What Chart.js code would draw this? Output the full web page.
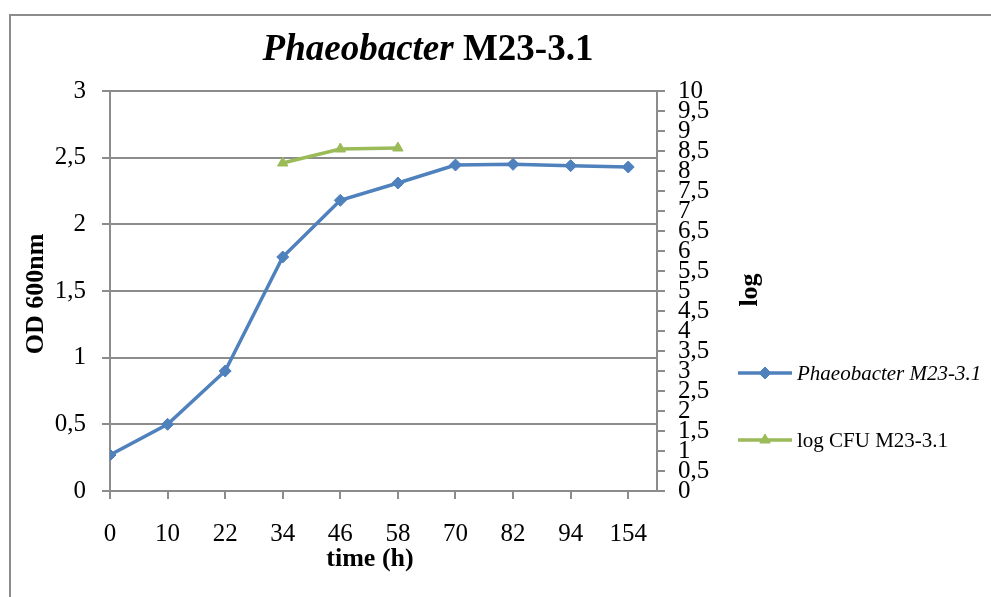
<!DOCTYPE html>
<html>
<head>
<meta charset="utf-8">
<script src="https://cdn.jsdelivr.net/npm/chart.js@4.4.1/dist/chart.umd.min.js"></script>
<style>
  html, body { margin: 0; padding: 0; background: #fff; }
  #wrap { position: relative; width: 991px; height: 597px; }
</style>
</head>
<body>
<div id="wrap"><canvas id="c" width="991" height="597"></canvas></div>
<script>
// ---- data ----
const timeLabels = ['0', '10', '22', '34', '46', '58', '70', '82', '94', '154'];
const odValues = [0.27, 0.50, 0.90, 1.755, 2.18, 2.31, 2.445, 2.45, 2.44, 2.43];
const logCfuValues = [null, null, null, 8.2, 8.55, 8.575, null, null, null, null];
const seriesNames = ['Phaeobacter M23-3.1', 'log CFU M23-3.1'];
const titleItalicPart = 'Phaeobacter';
const titleBoldPart = ' M23-3.1';
const xTitle = 'time (h)';
const yTitle = 'OD 600nm';
const y1Title = 'log';

const SERIF = "'Liberation Serif', 'Times New Roman', serif";
const AXIS_GREY = '#8c8c8c';
const BLUE = '#4f81bd';
const GREEN = '#9bbb59';

const toPoints = (arr) => arr.map((v, i) => ({ x: i, y: v })).filter(p => p.y !== null);
const commaFmt = (v) => String(Math.round(v * 10) / 10).replace('.', ',');

const decorPlugin = {
  id: 'decor',
  beforeDraw(chart) {
    const ctx = chart.ctx;
    ctx.save();
    ctx.fillStyle = '#fff';
    ctx.fillRect(0, 0, chart.width, chart.height);
    ctx.strokeStyle = AXIS_GREY;
    ctx.lineWidth = 2;
    ctx.strokeRect(10, 15, chart.width + 20, chart.height + 20);
    ctx.restore();
  },
  afterDraw(chart) {
    const ctx = chart.ctx;
    ctx.save();
    ctx.fillStyle = '#000';
    // Title (mixed italic / bold)
    const fItal = "italic bold 37px " + SERIF;
    const fBold = "bold 37px " + SERIF;
    ctx.font = fItal; const w1 = ctx.measureText(titleItalicPart).width;
    ctx.font = fBold; const w2 = ctx.measureText(titleBoldPart).width;
    const tx = 428 - (w1 + w2) / 2;
    ctx.textBaseline = 'alphabetic';
    ctx.textAlign = 'left';
    ctx.font = fItal; ctx.fillText(titleItalicPart, tx, 60);
    ctx.font = fBold; ctx.fillText(titleBoldPart, tx + w1, 60);

    // Axis titles
    ctx.font = "bold 26px " + SERIF;
    ctx.textAlign = 'center';
    ctx.textBaseline = 'middle';
    ctx.fillText(xTitle, 370, 559);
    ctx.save();
    ctx.translate(36, 294);
    ctx.rotate(-Math.PI / 2);
    ctx.fillText(yTitle, 0, 0);
    ctx.restore();
    ctx.save();
    ctx.translate(750, 290);
    ctx.rotate(-Math.PI / 2);
    ctx.fillText(y1Title, 0, 0);
    ctx.restore();

    // Legend
    const legendY = [373, 440];
    chart.data.datasets.forEach((ds, i) => {
      const y = legendY[i];
      ctx.strokeStyle = ds.borderColor;
      ctx.lineWidth = ds.borderWidth;
      ctx.lineCap = 'butt';
      ctx.beginPath();
      ctx.moveTo(738, y);
      ctx.lineTo(792, y);
      ctx.stroke();
      ctx.fillStyle = ds.borderColor;
      ctx.strokeStyle = ds.borderColor;
      ctx.lineWidth = 1;
      Chart.helpers.drawPoint(ctx, {
        pointStyle: ds.pointStyle,
        radius: ds.pointRadius,
        rotation: 0,
        borderWidth: 1
      }, 765, y);
      ctx.fillStyle = '#000';
      ctx.font = (i === 0 ? 'italic ' : '') + '21px ' + SERIF;
      ctx.textAlign = 'left';
      ctx.textBaseline = 'middle';
      ctx.fillText(ds.label, 797, y + 1);
    });
    ctx.restore();
  }
};

new Chart(document.getElementById('c'), {
  type: 'line',
  data: {
    datasets: [
      {
        label: seriesNames[0],
        data: toPoints(odValues),
        yAxisID: 'y',
        borderColor: BLUE,
        backgroundColor: BLUE,
        borderWidth: 3.5,
        pointStyle: 'rectRot',
        pointRadius: 6,
        pointBorderWidth: 1,
        pointBorderColor: BLUE,
        pointBackgroundColor: BLUE,
        tension: 0
      },
      {
        label: seriesNames[1],
        data: toPoints(logCfuValues),
        yAxisID: 'y1',
        borderColor: GREEN,
        backgroundColor: GREEN,
        borderWidth: 3.5,
        pointStyle: 'triangle',
        pointRadius: 6,
        pointBorderWidth: 1,
        pointBorderColor: GREEN,
        pointBackgroundColor: GREEN,
        tension: 0
      }
    ]
  },
  options: {
    responsive: false,
    animation: false,
    devicePixelRatio: 1,
    layout: { padding: { top: 91, right: 224, bottom: 0, left: 0 } },
    plugins: {
      legend: { display: false },
      title: { display: false },
      tooltip: { enabled: false }
    },
    scales: {
      x: {
        type: 'linear',
        min: 0,
        max: 9.5,
        afterBuildTicks(scale) {
          scale.ticks = timeLabels.map((_, i) => ({ value: i }));
        },
        afterFit(scale) { scale.height = 106; },
        grid: {
          drawOnChartArea: false,
          drawTicks: true,
          tickLength: 8,
          color: AXIS_GREY,
          lineWidth: 2
        },
        border: { color: AXIS_GREY, width: 2 },
        ticks: {
          autoSkip: false,
          maxRotation: 0,
          padding: 20,
          color: '#000',
          font: { family: SERIF, size: 25 },
          callback: (v) => timeLabels[v]
        }
      },
      y: {
        position: 'left',
        min: 0,
        max: 3,
        afterFit(scale) { scale.width = 110; },
        grid: {
          color: AXIS_GREY,
          lineWidth: 2,
          tickLength: 8
        },
        border: { color: AXIS_GREY, width: 2 },
        ticks: {
          stepSize: 0.5,
          padding: 16,
          color: '#000',
          font: { family: SERIF, size: 25 },
          callback: (v) => commaFmt(v)
        }
      },
      y1: {
        position: 'right',
        min: 0,
        max: 10,
        afterFit(scale) { scale.width = 110; },
        grid: {
          drawOnChartArea: false,
          color: AXIS_GREY,
          lineWidth: 2,
          tickLength: 8
        },
        border: { color: AXIS_GREY, width: 2 },
        ticks: {
          stepSize: 0.5,
          autoSkip: false,
          padding: 13,
          color: '#000',
          font: { family: SERIF, size: 25, lineHeight: 1 },
          callback: (v) => commaFmt(v)
        }
      }
    }
  },
  plugins: [decorPlugin]
});
</script>
</body>
</html>
